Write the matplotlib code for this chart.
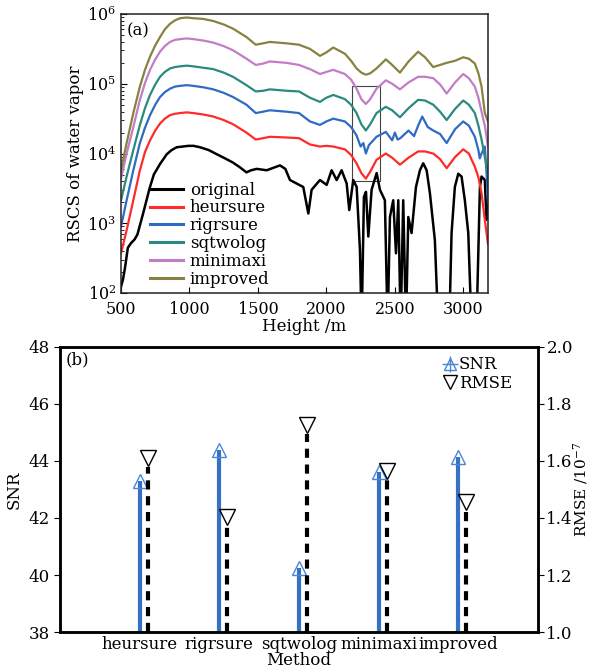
import numpy as np
import matplotlib
matplotlib.use("Agg")
import matplotlib.pyplot as plt
from matplotlib.lines import Line2D
from matplotlib.legend_handler import HandlerTuple
from matplotlib.patches import Rectangle

plt.rcParams['font.family'] = ['DejaVu Serif']
plt.rcParams['mathtext.fontset'] = 'dejavuserif'

# ---------------- Panel (a) data: heights (m) and log10 of RSCS ----------------
h_color = [500, 541, 590, 638, 675, 712, 750, 785, 820, 858, 895, 931, 980, 1028, 1100,
           1174, 1250, 1318, 1416, 1484, 1538, 1587, 1708, 1800, 1880, 1953, 2000, 2050,
           2135, 2180, 2220, 2255, 2288, 2320, 2366, 2434, 2480, 2537, 2600, 2670, 2720,
           2780, 2830, 2878, 2940, 2999, 3040, 3084, 3110, 3133, 3157, 3180]

heursure_log = [2.57, 2.90, 3.33, 3.76, 4.02, 4.19, 4.33, 4.43, 4.50, 4.55, 4.57, 4.58, 4.59, 4.58, 4.56,
                4.53, 4.48, 4.42, 4.30, 4.20, 4.22, 4.24, 4.23, 4.22, 4.13, 4.10, 4.11, 4.10,
                4.06, 3.98, 3.86, 3.72, 3.64, 3.74, 3.91, 4.00, 3.94, 3.84, 3.94, 4.03, 4.03,
                4.00, 3.92, 3.79, 3.95, 4.06, 4.00, 3.81, 3.66, 3.43, 3.05, 2.70]
sqtwolog_log = [3.33, 3.67, 4.05, 4.41, 4.65, 4.84, 4.99, 5.10, 5.17, 5.22, 5.24, 5.25, 5.26, 5.25, 5.23,
                5.21, 5.16, 5.10, 4.98, 4.89, 4.90, 4.92, 4.90, 4.89, 4.80, 4.74, 4.80, 4.84,
                4.78, 4.70, 4.58, 4.42, 4.33, 4.42, 4.58, 4.67, 4.62, 4.52, 4.65, 4.77, 4.76,
                4.70, 4.60, 4.48, 4.64, 4.76, 4.70, 4.58, 4.40, 4.20, 3.95, 3.72]
minimaxi_log = [3.64, 4.00, 4.38, 4.77, 5.01, 5.20, 5.35, 5.46, 5.54, 5.60, 5.63, 5.64, 5.65, 5.64, 5.62,
                5.59, 5.54, 5.48, 5.36, 5.27, 5.29, 5.32, 5.30, 5.27, 5.21, 5.14, 5.17, 5.20,
                5.14, 5.06, 4.93, 4.78, 4.71, 4.78, 4.93, 5.05, 5.00, 4.92, 5.02, 5.10, 5.10,
                5.08, 4.99, 4.86, 5.02, 5.14, 5.08, 4.96, 4.80, 4.60, 4.40, 4.10]
improved_log = [3.76, 4.15, 4.58, 4.96, 5.20, 5.39, 5.55, 5.67, 5.78, 5.86, 5.91, 5.94, 5.95, 5.94, 5.93,
                5.90, 5.85, 5.79, 5.67, 5.56, 5.58, 5.60, 5.58, 5.56, 5.50, 5.40, 5.45, 5.52,
                5.43, 5.33, 5.22, 5.16, 5.13, 5.15, 5.22, 5.35, 5.27, 5.16, 5.32, 5.46, 5.38,
                5.24, 5.27, 5.30, 5.33, 5.38, 5.36, 5.29, 5.15, 4.96, 4.58, 4.46]

h_rig = [500, 541, 590, 638, 675, 712, 750, 785, 820, 858, 895, 931, 980, 1028, 1100,
         1174, 1250, 1318, 1416, 1484, 1538, 1587, 1708, 1800, 1880, 1953, 2000, 2050,
         2135, 2180, 2220, 2250, 2270, 2288, 2310, 2366, 2434, 2480, 2500, 2520, 2540,
         2600, 2640, 2670, 2700, 2740, 2780, 2830, 2878, 2940, 2999, 3040, 3084, 3110,
         3120, 3133, 3157, 3170, 3180]
rigrsure_log = [2.95, 3.33, 3.76, 4.15, 4.37, 4.55, 4.70, 4.81, 4.88, 4.93, 4.96, 4.97, 4.98, 4.97, 4.95,
                4.92, 4.87, 4.81, 4.70, 4.58, 4.60, 4.62, 4.60, 4.58, 4.46, 4.41, 4.46, 4.50,
                4.46, 4.38, 4.26, 4.10, 4.15, 4.00, 4.12, 4.24, 4.31, 4.19, 4.30, 4.20, 4.22,
                4.33, 4.25, 4.40, 4.53, 4.38, 4.33, 4.28, 4.15, 4.35, 4.46, 4.40, 4.24, 4.05,
                3.93, 4.00, 4.10, 3.70, 3.29]

h_orig = [500, 515, 529, 550, 575, 600, 620, 660, 710, 740, 785, 834, 870, 907, 950, 992,
          1030, 1077, 1140, 1199, 1260, 1318, 1370, 1416, 1450, 1491, 1564, 1661, 1700,
          1734, 1831, 1868, 1892, 1953, 2002, 2038, 2075, 2111, 2148, 2167, 2196, 2221,
          2245, 2257, 2274, 2289, 2306, 2330, 2367, 2391, 2427, 2447, 2464, 2488, 2508,
          2525, 2542, 2561, 2581, 2598, 2622, 2654, 2683, 2707, 2732, 2756, 2792, 2817,
          2897, 2914, 2938, 2963, 2987, 3011, 3036, 3060, 3096, 3121, 3133, 3157, 3169, 3180]
original_log = [2.09, 2.20, 2.36, 2.65, 2.72, 2.77, 2.84, 3.13, 3.51, 3.70, 3.85, 3.99, 4.05, 4.09, 4.10,
                4.11, 4.11, 4.09, 4.05, 3.99, 3.93, 3.87, 3.80, 3.73, 3.76, 3.78, 3.76, 3.83,
                3.78, 3.62, 3.52, 3.14, 3.48, 3.62, 3.55, 3.76, 3.62, 3.76, 3.57, 3.19, 3.62,
                3.52, 2.62, 1.50, 3.38, 3.45, 2.81, 3.48, 3.72, 3.48, 3.33, 1.50, 3.09, 3.33,
                2.57, 3.33, 1.50, 3.33, 1.50, 3.09, 2.86, 3.52, 3.76, 3.86, 3.76, 3.43, 2.76,
                1.50, 1.50, 2.86, 3.52, 3.71, 3.67, 3.33, 2.86, 1.50, 1.50, 3.52, 3.67, 3.62,
                3.05, 3.33]

series_a = [
    ("original", h_orig, original_log, "#000000"),
    ("heursure", h_color, heursure_log, "#ff2a2a"),
    ("rigrsure", h_rig, rigrsure_log, "#2f6bc4"),
    ("sqtwolog", h_color, sqtwolog_log, "#2a8a80"),
    ("minimaxi", h_color, minimaxi_log, "#c27cc8"),
    ("improved", h_color, improved_log, "#87823f"),
]

# zoom box (height range, value range)
box_h = [2190, 2390]
box_v = [4.0e3, 9.3e4]

# ---------------- Panel (b) data ----------------
methods = ["heursure", "rigrsure", "sqtwolog", "minimaxi", "improved"]
snr = [43.3, 44.4, 40.25, 43.6, 44.15]
rmse = [1.61, 1.405, 1.725, 1.565, 1.455]   # x 1e-7

fig = plt.figure(figsize=(5.92, 6.71), dpi=100)

# ---------------- Panel (a) ----------------
ax = fig.add_axes([0.2044, 0.5633, 0.6199, 0.4158])
for name, hh, lv, col in series_a:
    ax.plot(hh, 10.0 ** np.array(lv), color=col, lw=1.8 if name == "original" else 1.6,
            label=name)
ax.add_patch(Rectangle((box_h[0], box_v[0]), box_h[1] - box_h[0], box_v[1] - box_v[0],
                       fill=False, ec="#444444", lw=0.8))
ax.set_yscale("log")
ax.set_xlim(500, 3180)
ax.set_ylim(1e2, 1e6)
ax.set_xticks([500, 1000, 1500, 2000, 2500, 3000])
ax.tick_params(axis="both", which="both", direction="in", labelsize=11.5)
ax.tick_params(axis="y", which="major", length=4)
ax.tick_params(axis="y", which="minor", length=2.5)
ax.tick_params(axis="x", length=4, pad=6)
for s in ax.spines.values():
    s.set_linewidth(1.1)
    s.set_color("#222222")
ax.set_xlabel("Height /m", fontsize=12, labelpad=0)
ax.set_ylabel("RSCS of water vapor", fontsize=12, labelpad=2)
ax.text(0.015, 0.97, "(a)", transform=ax.transAxes, fontsize=12, va="top", ha="left")
leg = ax.legend(loc="lower left", bbox_to_anchor=(0.06, -0.005), frameon=False,
                fontsize=12, handlelength=2.0, handletextpad=0.4, labelspacing=0.05,
                borderaxespad=0)
for l in leg.get_lines():
    l.set_linewidth(2.2)

# ---------------- Panel (b) ----------------
bx = fig.add_axes([0.1014, 0.0581, 0.8074, 0.4248])
bx2 = bx.twinx()
xpos = np.arange(1, len(methods) + 1)
off = 0.1
snr_col = "#3572c6"
for x, s in zip(xpos, snr):
    bx.plot([x, x], [38, s], color=snr_col, lw=3.0, solid_capstyle="butt", zorder=2)
bx.plot(xpos, snr, linestyle="none", marker="^", ms=10, mfc="none", mec="#4a86d8",
        mew=1.0, zorder=3)
for x, r in zip(xpos, rmse):
    bx2.plot([x + off, x + off], [1.0, r - 0.03], color="black", lw=3.0,
             dashes=(2.2, 1.6), zorder=2)
bx2.plot(xpos + off, rmse, linestyle="none", marker="v", ms=11, mfc="none", mec="black",
         mew=1.0, zorder=3)
bx.set_xlim(0, 6)
bx.set_ylim(38, 48)
bx2.set_ylim(1.0, 2.0)
bx.set_xticks(xpos)
bx.set_xticklabels(methods)
bx.set_yticks([38, 40, 42, 44, 46, 48])
bx2.set_yticks([1.0, 1.2, 1.4, 1.6, 1.8, 2.0])
bx.tick_params(axis="x", length=0, labelsize=12, pad=3)
bx.tick_params(axis="y", direction="out", length=4, labelsize=12)
bx2.tick_params(axis="y", direction="out", length=4, labelsize=12, pad=2)
for a in (bx, bx2):
    for s in a.spines.values():
        s.set_linewidth(1.8)
bx.set_ylabel("SNR", fontsize=12, labelpad=4)
bx2.set_ylabel("RMSE /10$^{-7}$", fontsize=11)
bx2.yaxis.set_label_coords(1.07, 0.5)
bx.set_xlabel("Method", fontsize=12, labelpad=-1)
bx.text(0.012, 0.985, "(b)", transform=bx.transAxes, fontsize=12, va="top", ha="left")

h_snr = (Line2D([], [], linestyle="none", marker="^", ms=9, mfc="none", mec="#4a86d8", mew=1.0),
         Line2D([], [], linestyle="none", marker="+", ms=11, mec="#4a86d8", mew=1.0))
h_rmse = Line2D([], [], linestyle="none", marker="v", ms=10, mfc="none", mec="black", mew=1.0)
bx.legend([h_snr, h_rmse], ["SNR", "RMSE"], handler_map={tuple: HandlerTuple(ndivide=1)},
          loc="upper right", bbox_to_anchor=(0.96, 0.99), frameon=False, fontsize=12,
          handlelength=0.9, handletextpad=0.1, labelspacing=0.1, borderaxespad=0)

fig.savefig("out.png", dpi=100)
